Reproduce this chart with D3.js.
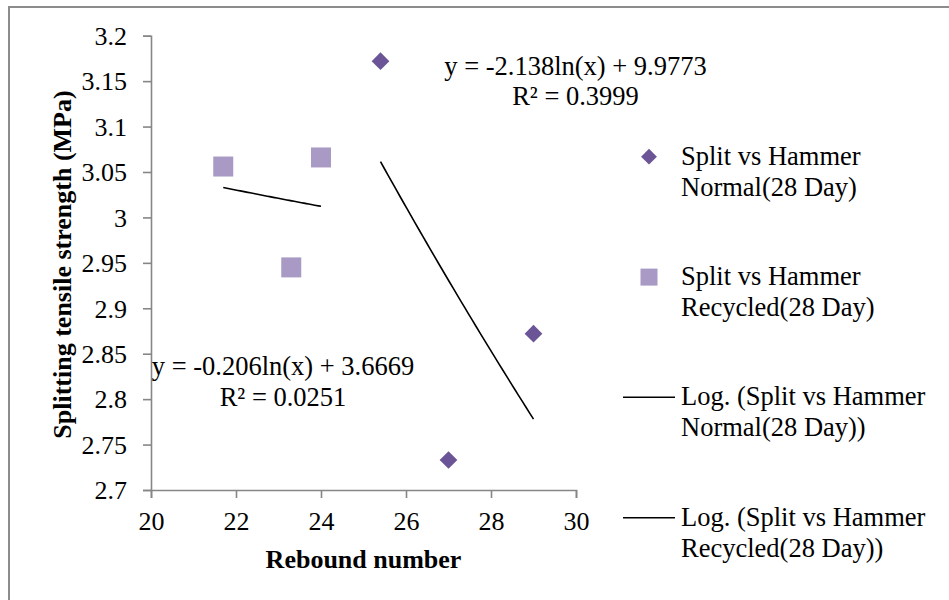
<!DOCTYPE html>
<html>
<head>
<meta charset="utf-8">
<script src="https://cdn.jsdelivr.net/npm/d3@7"></script>
<style>
  html, body { margin: 0; padding: 0; background: #fff; }
  svg { display: block; }
  text { font-family: "Liberation Serif", "Times New Roman", serif; fill: #000; }
</style>
</head>
<body>
<svg id="chart" width="949" height="600"></svg>
<script>
// Rebound hammer number vs splitting tensile strength, 28-day specimens
const normalRebound = [25.4, 27, 29];
const normalSplit = [3.172, 2.733, 2.872];
const recycledRebound = [21.7, 23.3, 24];
const recycledSplit = [3.056, 2.945, 3.066];

// Logarithmic trendlines: y = a ln(x) + b
const normalFit = [-2.138, 9.9773];
const recycledFit = [-0.206, 3.6669];
const normalFitText = ["y = -2.138ln(x) + 9.9773", "R\u00b2 = 0.3999"];
const recycledFitText = ["y = -0.206ln(x) + 3.6669", "R\u00b2 = 0.0251"];

const xTicks = [20, 22, 24, 26, 28, 30];
const yTicks = [2.7, 2.75, 2.8, 2.85, 2.9, 2.95, 3, 3.05, 3.1, 3.15, 3.2];

const legendLabels = [
  ["Split vs Hammer", "Normal(28 Day)"],
  ["Split vs Hammer", "Recycled(28 Day)"],
  ["Log. (Split vs Hammer", "Normal(28 Day))"],
  ["Log. (Split vs Hammer", "Recycled(28 Day))"]
];

const normalColor = "#6c5596";
const recycledColor = "#a89ac4";
const axisColor = "#868686";

const svg = d3.select("#chart");

// outer chart frame
svg.append("rect")
  .attr("x", 9).attr("y", 7)
  .attr("width", 960).attr("height", 620)
  .attr("fill", "none").attr("stroke", "#8c8c8c").attr("stroke-width", 2);

const x = d3.scaleLinear().domain([20, 30]).range([151, 576]);
const y = d3.scaleLinear().domain([2.7, 3.2]).range([490, 35.7]);

// axes
const xAxis = svg.append("g")
  .attr("transform", `translate(0,${y(2.7)})`)
  .call(d3.axisBottom(x).tickValues(xTicks).tickSize(8).tickPadding(14).tickFormat(d3.format("d")));
const yAxis = svg.append("g")
  .attr("transform", `translate(${x(20)},0)`)
  .call(d3.axisLeft(y).tickValues(yTicks).tickSize(8).tickPadding(16).tickFormat(d => String(+d.toFixed(2))));

[xAxis, yAxis].forEach(g => {
  g.select(".domain").attr("stroke", axisColor).attr("stroke-width", 1.6);
  g.selectAll(".tick line").attr("stroke", axisColor).attr("stroke-width", 1.6);
  g.selectAll(".tick text")
    .attr("fill", "#000")
    .style("font-family", '"Liberation Serif", "Times New Roman", serif')
    .style("font-size", "26px");
});
xAxis.selectAll(".tick text").attr("dy", "0.71em");
yAxis.selectAll(".tick text").attr("dy", "0.34em");

// axis titles
svg.append("text")
  .attr("x", (x(20) + x(30)) / 2).attr("y", 568)
  .attr("text-anchor", "middle")
  .style("font-size", "26px").style("font-weight", "bold")
  .text("Rebound number");
svg.append("text")
  .attr("transform", `translate(71,${(89 + 440) / 2}) rotate(-90)`)
  .attr("text-anchor", "middle")
  .style("font-size", "26px").style("font-weight", "bold")
  .text("Splitting tensile strength (MPa)");

// trendlines
function trend(xs, fit) {
  const lo = d3.min(xs), hi = d3.max(xs);
  const pts = d3.range(0, 41).map(i => {
    const xv = lo + (hi - lo) * i / 40;
    return [xv, fit[0] * Math.log(xv) + fit[1]];
  });
  return d3.line().x(d => x(d[0])).y(d => y(d[1]))(pts);
}
svg.append("path").attr("d", trend(normalRebound, normalFit))
  .attr("fill", "none").attr("stroke", "#000").attr("stroke-width", 1.6);
svg.append("path").attr("d", trend(recycledRebound, recycledFit))
  .attr("fill", "none").attr("stroke", "#000").attr("stroke-width", 1.6);

// markers
const diamond = d3.symbol().type(d3.symbolDiamond2);
const square = d3.symbol().type(d3.symbolSquare);

svg.append("g").selectAll("path")
  .data(d3.zip(recycledRebound, recycledSplit))
  .join("path")
  .attr("transform", d => `translate(${x(d[0])},${y(d[1])})`)
  .attr("d", square.size(400)())
  .attr("fill", recycledColor);

svg.append("g").selectAll("path")
  .data(d3.zip(normalRebound, normalSplit))
  .join("path")
  .attr("transform", d => `translate(${x(d[0])},${y(d[1])})`)
  .attr("d", diamond.size(200)())
  .attr("fill", normalColor);

// fit equations
function fitLabel(lines, cx, baseline) {
  const t = svg.append("text")
    .attr("text-anchor", "middle")
    .style("font-size", "26.5px");
  lines.forEach((s, i) => {
    t.append("tspan").attr("x", cx).attr("y", baseline + i * 30.8).text(s);
  });
}
fitLabel(normalFitText, 575.5, 74.5);
fitLabel(recycledFitText, 283, 375);

// legend
const legendTop = 164.5, legendStep = 120.4;
legendLabels.forEach((lines, i) => {
  const base = legendTop + i * legendStep;
  const g = svg.append("g");
  if (i === 0) {
    g.append("path").attr("transform", `translate(649,${base - 7.8})`)
      .attr("d", diamond.size(160)()).attr("fill", normalColor);
  } else if (i === 1) {
    g.append("path").attr("transform", `translate(649,${base - 7.8})`)
      .attr("d", square.size(289)()).attr("fill", recycledColor);
  } else {
    g.append("line").attr("x1", 623).attr("x2", 675)
      .attr("y1", base - 8).attr("y2", base - 8)
      .attr("stroke", "#000").attr("stroke-width", 1.6);
  }
  const t = g.append("text").style("font-size", "26.5px");
  lines.forEach((s, j) => {
    t.append("tspan").attr("x", 681).attr("y", base + j * 31).text(s);
  });
});
</script>
</body>
</html>
